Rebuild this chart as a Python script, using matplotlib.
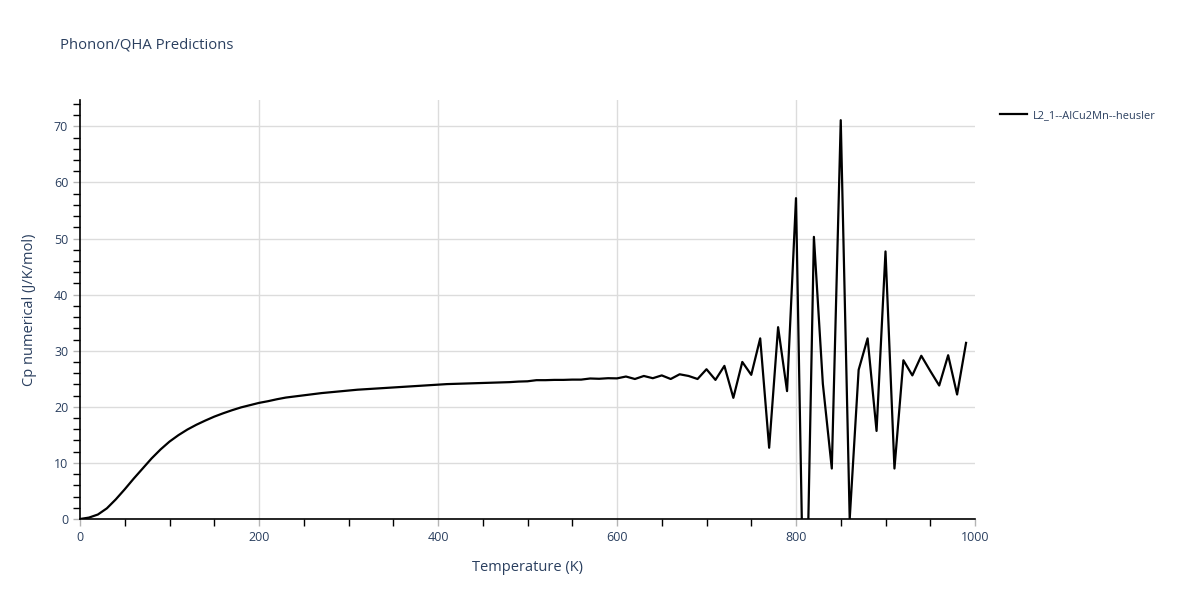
import matplotlib
matplotlib.use("Agg")
import matplotlib.pyplot as plt
from matplotlib.ticker import MultipleLocator

plt.rcParams['font.family'] = ['Open Sans', 'DejaVu Sans']

# Temperature grid (K) and Cp values
temps = list(range(0, 1000, 10))
cp = [
    0.0, 0.25, 0.8, 1.9, 3.5, 5.3, 7.2, 9.0, 10.8, 12.4,
    13.8, 14.95, 15.95, 16.8, 17.55, 18.25, 18.85, 19.4, 19.9, 20.3,
    20.7, 21.0, 21.35, 21.65, 21.85, 22.05, 22.25, 22.45, 22.6, 22.75,
    22.9, 23.05, 23.15, 23.25, 23.35, 23.45, 23.55, 23.65, 23.75, 23.85,
    23.95, 24.05, 24.1, 24.15, 24.2, 24.25, 24.3, 24.35, 24.4, 24.5,
    24.55, 24.75, 24.75, 24.8, 24.8, 24.85, 24.85, 25.05, 25.0, 25.1,
    25.07, 25.4, 24.96, 25.5, 25.1, 25.6, 24.96, 25.8, 25.5, 24.96,
    26.7, 24.8, 27.3, 21.6, 28.0, 25.7, 32.2, 12.7, 34.2, 22.8,
    57.2, -31.0, 50.3, 24.1, 9.0, 71.1, 0.0, 26.6, 32.2, 15.7,
    47.7, 9.0, 28.3, 25.6, 29.1, 26.4, 23.8, 29.2, 22.2, 31.4,
]
series_name = "L2_1--AlCu2Mn--heusler"
x_grid = [200, 400, 600, 800]

text_col = '#2a3f5f'
grid_col = '#dcdcdc'

fig = plt.figure(figsize=(12, 6), dpi=100)
ax = fig.add_axes([80 / 1200, 81 / 600, 895 / 1200, 419 / 600])

ax.plot(temps, cp, color='black', lw=1.6, label=series_name, zorder=3)

ax.set_xlim(0, 1000)
ax.set_ylim(0, 74.7)
ax.xaxis.set_major_locator(MultipleLocator(200))
ax.xaxis.set_minor_locator(MultipleLocator(50))
ax.yaxis.set_major_locator(MultipleLocator(10))
ax.yaxis.set_minor_locator(MultipleLocator(2))

# gridlines: y on every major tick, x only inside the plot (none on the edge)
ax.yaxis.grid(True, which='major', color=grid_col, lw=1)
for t in x_grid:
    ax.axvline(t, color=grid_col, lw=1, zorder=0.5)
ax.set_axisbelow(True)

for s in ['top', 'right']:
    ax.spines[s].set_visible(False)
for s in ['left', 'bottom']:
    ax.spines[s].set_color('black')
    ax.spines[s].set_linewidth(1.2)

ax.tick_params(which='both', direction='out', labelcolor=text_col, labelsize=9)
ax.tick_params(which='major', length=5, width=1, color='#b4b4b4')
ax.tick_params(which='minor', length=5, width=1, color='black')

ax.set_xlabel('Temperature (K)', color=text_col, fontsize=10.5, labelpad=12)
ax.set_ylabel('Cp numerical (J/K/mol)', color=text_col, fontsize=10.5, labelpad=12)

fig.text(60 / 1200, 1 - 45 / 600, 'Phonon/QHA Predictions', color=text_col,
         fontsize=10.7, va='center', ha='left')

ax.legend(loc='upper left', bbox_to_anchor=(990 / 1200, 1 - 100 / 600),
          bbox_transform=fig.transFigure, frameon=False, fontsize=7.9,
          labelcolor=text_col, handlelength=2.5, handletextpad=0.55)

fig.savefig('out.png', dpi=100)
